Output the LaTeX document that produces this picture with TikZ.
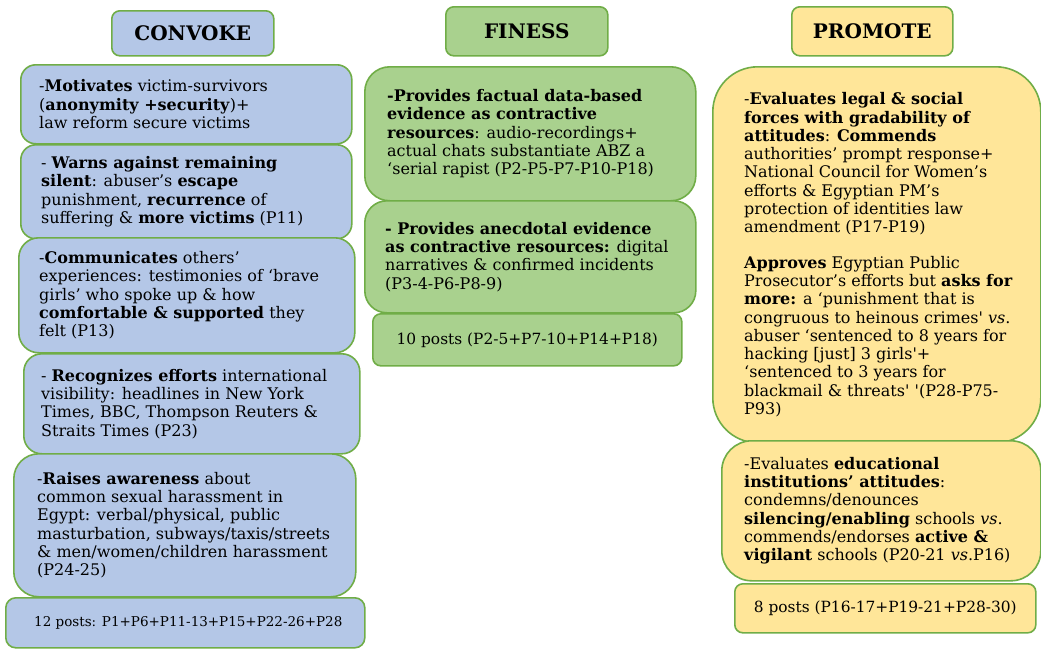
\documentclass[tikz,border=0pt]{standalone}
\usepackage{fontspec}
\setmainfont{DejaVu Serif}
\usetikzlibrary{positioning}

\definecolor{convblue}{HTML}{B4C7E7}
\definecolor{finegreen}{HTML}{A9D18E}
\definecolor{promyellow}{HTML}{FFE699}
\definecolor{edgegreen}{HTML}{70AD47}
\newcommand{\sq}{\textquotesingle}

\tikzset{
  panel/.style={draw=edgegreen, line width=1.6pt, rounded corners=#1,
    anchor=north west, inner sep=0pt},
  panel/.default=15pt,
  head/.style={panel=8pt, font=\bfseries\fontsize{20}{22}\selectfont},
  body/.style={align=left, inner sep=0pt, font=\fontsize{16}{18.3}\selectfont},
  posts/.style={inner sep=0pt, font=\fontsize{15.4}{17}\selectfont},
}

\begin{document}
\begin{tikzpicture}[x=1pt, y=-1pt]
  \useasboundingbox (0,0) rectangle (1041,648);

  % Convoke column
  \node[head, fill=convblue, minimum width=162, minimum height=45] (convoke) at (111,10) {CONVOKE};
  \node[panel=15pt, fill=convblue, minimum width=331, minimum height=79] (motivates) at (20,64) {};
  \node[body, right=19pt of motivates.west] {-\textbf{Motivates} victim-survivors\\
    (\textbf{anonymity +security})+\\
    law reform secure victims};
  \node[panel=15pt, fill=convblue, minimum width=331, minimum height=94] (warns) at (20,144) {};
  \node[body, right=21pt of warns.west] {- \textbf{Warns against remaining}\\
    \textbf{silent}: abuser’s \textbf{escape}\\
    punishment, \textbf{recurrence} of\\
    suffering \& \textbf{more victims} (P11)};
  \node[panel=20pt, fill=convblue, minimum width=336, minimum height=115] (communicates) at (18,237) {};
  \node[body, right=21pt of communicates.west] {-\textbf{Communicates} others’\\
    experiences: testimonies of ‘brave\\
    girls’ who spoke up \& how\\
    \textbf{comfortable \& supported} they\\
    felt (P13)};
  \node[panel=18pt, fill=convblue, minimum width=336, minimum height=100] (recognizes) at (23,353) {};
  \node[body, right=18pt of recognizes.west] {- \textbf{Recognizes efforts} international\\
    visibility: headlines in New York\\
    Times, BBC, Thompson Reuters \&\\
    Straits Times (P23)};
  \node[panel=25pt, fill=convblue, minimum width=342, minimum height=143] (raises) at (13,453) {};
  \node[body, right=24pt of raises.west] {-\textbf{Raises awareness} about\\
    common sexual harassment in\\
    Egypt: verbal/physical, public\\
    masturbation, subways/taxis/streets\\
    \& men/women/children harassment\\
    (P24-25)};
  \node[panel=10pt, fill=convblue, minimum width=359, minimum height=50] (convposts) at (5,597) {};
  \node[posts, font=\fontsize{13.5}{16}\selectfont] at ([xshift=3pt]convposts.center) {12 posts: P1+P6+P11-13+P15+P22-26+P28};

  % Finess column
  \node[head, fill=finegreen, minimum width=162, minimum height=49] (finess) at (445,6) {FINESS};
  \node[panel=25pt, fill=finegreen, minimum width=331, minimum height=134] (factual) at (364,66) {};
  \node[body, right=23pt of factual.west] {\textbf{-Provides factual data-based}\\
    \textbf{evidence as contractive}\\
    \textbf{resources}: audio-recordings+\\
    actual chats substantiate ABZ a\\
    ‘serial rapist (P2-P5-P7-P10-P18)};
  \node[panel=22pt, fill=finegreen, minimum width=331, minimum height=112] (anecdotal) at (364,200) {};
  \node[body, right=21pt of anecdotal.west] {\textbf{- Provides anecdotal evidence}\\
    \textbf{as contractive resources:} digital\\
    narratives \& confirmed incidents\\
    (P3-4-P6-P8-9)};
  \node[panel=8pt, fill=finegreen, minimum width=309, minimum height=52] (fineposts) at (372,313) {};
  \node[posts] at (fineposts.center) {10 posts (P2-5+P7-10+P14+P18)};

  % Promote column
  \node[head, fill=promyellow, minimum width=161, minimum height=49] (promote) at (791,6) {PROMOTE};
  \node[panel=45pt, fill=promyellow, minimum width=328, minimum height=376] (evaluates) at (712,66) {};
  \node[body, right=32pt of evaluates.west] {-\textbf{Evaluates legal \& social}\\
    \textbf{forces with gradability of}\\
    \textbf{attitudes}: \textbf{Commends}\\
    authorities’ prompt response+\\
    National Council for Women’s\\
    efforts \& Egyptian PM’s\\
    protection of identities law\\
    amendment (P17-P19)\\[17pt]
    \textbf{Approves} Egyptian Public\\
    Prosecutor’s efforts but \textbf{asks for}\\
    \textbf{more:} a ‘punishment that is\\
    congruous to heinous crimes\sq{} \textit{vs}.\\
    abuser ‘sentenced to 8 years for\\
    hacking [just] 3 girls\sq+\\
    ‘sentenced to 3 years for\\
    blackmail \& threats\sq{} \sq(P28-P75-\\
    P93)};
  \node[panel=30pt, fill=promyellow, minimum width=319, minimum height=140] (schools) at (721,440) {};
  \node[body, right=23pt of schools.west] {-Evaluates \textbf{educational}\\
    \textbf{institutions’ attitudes}:\\
    condemns/denounces\\
    \textbf{silencing/enabling} schools \textit{vs}.\\
    commends/endorses \textbf{active \&}\\
    \textbf{vigilant} schools (P20-21 \textit{vs}.P16)};
  \node[panel=8pt, fill=promyellow, minimum width=301, minimum height=49] (promposts) at (734,583) {};
  \node[posts] at (promposts.center) {8 posts (P16-17+P19-21+P28-30)};
\end{tikzpicture}
\end{document}
